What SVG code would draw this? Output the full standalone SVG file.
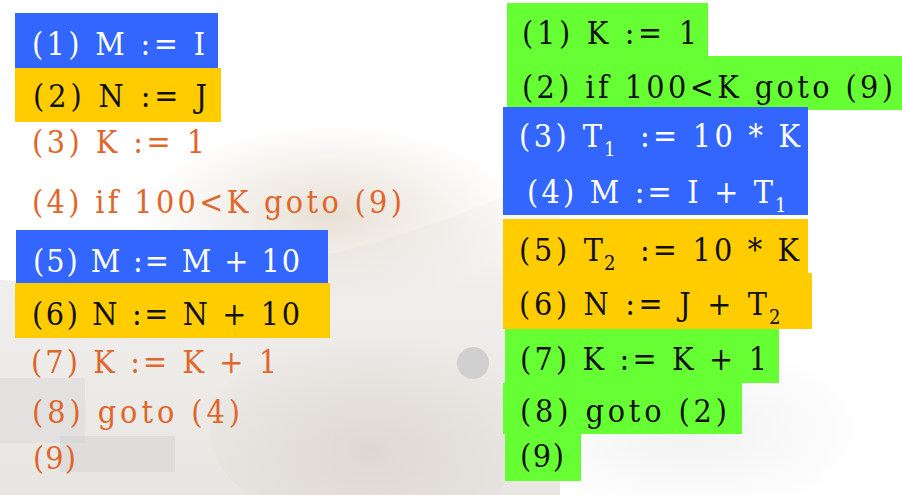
<svg xmlns="http://www.w3.org/2000/svg" width="902" height="495" viewBox="0 0 902 495">
<defs>
<style>
.t{font-size:32px}
.s{font-size:20px}
.o{fill:#e0662a}
.w{fill:#ffffff}
.k{fill:#111111}
.blue{fill:#3366ff}
.yel{fill:#ffcc00}
.grn{fill:#66ff33}
</style>
<radialGradient id="canopy" cx="0.5" cy="0.5" r="0.5">
<stop offset="0" stop-color="#ddd3c4" stop-opacity="0.7"/>
<stop offset="1" stop-color="#ddd3c4" stop-opacity="0"/>
</radialGradient>
<radialGradient id="trees" cx="0.5" cy="0.6" r="0.6">
<stop offset="0" stop-color="#d9d2c8" stop-opacity="0.7"/>
<stop offset="1" stop-color="#d9d2c8" stop-opacity="0"/>
</radialGradient>
<radialGradient id="rightfog" cx="0.5" cy="0.5" r="0.5">
<stop offset="0" stop-color="#e8e8e8" stop-opacity="0.6"/>
<stop offset="1" stop-color="#e8e8e8" stop-opacity="0"/>
</radialGradient>
<linearGradient id="lower" x1="0" y1="0" x2="0" y2="1">
<stop offset="0" stop-color="#e6e4e0" stop-opacity="0"/>
<stop offset="0.35" stop-color="#e6e4e0" stop-opacity="0.6"/>
<stop offset="1" stop-color="#dedbd6" stop-opacity="0.7"/>
</linearGradient>
</defs>
<g id="background">
<rect width="902" height="495" fill="#ffffff"/>
<ellipse cx="330" cy="215" rx="190" ry="90" fill="url(#canopy)"/>
<path d="M0 280 Q300 300 560 170 L560 495 L0 495 Z" fill="url(#lower)"/>
<ellipse cx="370" cy="430" rx="160" ry="100" fill="url(#trees)"/>
<rect x="0" y="378" width="85" height="65" fill="#d8d8d8" opacity="0.45"/>
<rect x="60" y="436" width="115" height="36" fill="#d0d0d0" opacity="0.45"/>
<circle cx="473" cy="363" r="16" fill="#d0d0d0"/>
<ellipse cx="690" cy="430" rx="180" ry="90" fill="url(#rightfog)"/>
</g>
<g font-family="DejaVu Serif Condensed, DejaVu Serif, serif" font-stretch="condensed">
<g id="left-1"><rect class="blue" x="15" y="13" width="203" height="55"/><text class="t w" x="32" y="55" textLength="173" lengthAdjust="spacing">(1) M := I</text></g>
<g id="left-2"><rect class="yel" x="15" y="68" width="206" height="54"/><text class="t k" x="33" y="107" textLength="174" lengthAdjust="spacing">(2) N := J</text></g>
<g id="left-3"><text class="t o" x="32" y="153" textLength="173" lengthAdjust="spacing">(3) K := 1</text></g>
<g id="left-4"><text class="t o" x="32" y="213" textLength="370" lengthAdjust="spacing">(4) if 100&lt;K goto (9)</text></g>
<g id="left-5"><rect class="blue" x="16" y="230" width="312" height="53"/><text class="t w" x="33" y="272" textLength="267" lengthAdjust="spacing">(5) M := M + 10</text></g>
<g id="left-6"><rect class="yel" x="15" y="283" width="315" height="55"/><text class="t k" x="32" y="325" textLength="268" lengthAdjust="spacing">(6) N := N + 10</text></g>
<g id="left-7"><text class="t o" x="31" y="373" textLength="246" lengthAdjust="spacing">(7) K := K + 1</text></g>
<g id="left-8"><text class="t o" x="32" y="423" textLength="208" lengthAdjust="spacing">(8) goto (4)</text></g>
<g id="left-9"><text class="t o" x="33" y="469" textLength="43" lengthAdjust="spacing">(9)</text></g>

<g id="right-1"><rect class="grn" x="507" y="3" width="201" height="53"/><text class="t k" x="522" y="44" textLength="175" lengthAdjust="spacing">(1) K := 1</text></g>
<g id="right-2"><rect class="grn" x="507" y="56" width="395" height="54"/><text class="t k" x="522" y="98" textLength="371" lengthAdjust="spacing">(2) if 100&lt;K goto (9)</text></g>
<g id="right-3"><rect class="blue" x="503" y="107" width="305" height="54"/>
<text class="t w" x="519" y="147" textLength="83" lengthAdjust="spacing">(3) T</text><text class="s w" x="604" y="156">1</text><text class="t w" x="640" y="147" textLength="160" lengthAdjust="spacing">:= 10 * K</text></g>
<g id="right-4"><rect class="blue" x="503" y="160" width="305" height="55"/>
<text class="t w" x="527" y="203" textLength="246" lengthAdjust="spacing">(4) M := I + T</text><text class="s w" x="775" y="212">1</text></g>
<g id="right-5"><rect class="yel" x="503" y="219" width="305" height="54"/>
<text class="t k" x="519" y="261" textLength="84" lengthAdjust="spacing">(5) T</text><text class="s k" x="604" y="270">2</text><text class="t k" x="640" y="261" textLength="159" lengthAdjust="spacing">:= 10 * K</text></g>
<g id="right-6"><rect class="yel" x="503" y="273" width="309" height="56"/>
<text class="t k" x="519" y="315" textLength="248" lengthAdjust="spacing">(6) N := J + T</text><text class="s k" x="769" y="324">2</text></g>
<g id="right-7"><rect class="grn" x="505" y="329" width="274" height="54"/><text class="t k" x="520" y="370" textLength="247" lengthAdjust="spacing">(7) K := K + 1</text></g>
<g id="right-8"><rect class="grn" x="503" y="383" width="239" height="51"/><text class="t k" x="520" y="422" textLength="207" lengthAdjust="spacing">(8) goto (2)</text></g>
<g id="right-9"><rect class="grn" x="505" y="434" width="76" height="47"/><text class="t k" x="520" y="467" textLength="44" lengthAdjust="spacing">(9)</text></g>
</g>
<g id="connectors"/>
</svg>
